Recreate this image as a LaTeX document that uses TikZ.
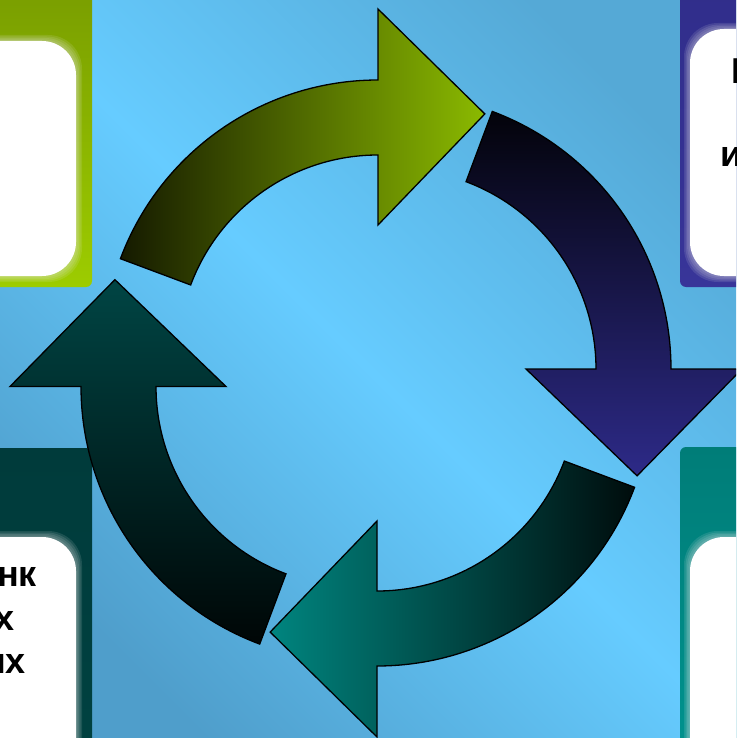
\documentclass[tikz,border=0pt]{standalone}
\usepackage{fontspec}
\setmainfont{Liberation Sans}
\usetikzlibrary{calc}
\definecolor{bglight}{HTML}{66CCFF}
\definecolor{bgdarkA}{HTML}{55A9D6}
\definecolor{bgdarkB}{HTML}{4F9ECB}
\definecolor{grA}{HTML}{779B00}
\definecolor{grB}{HTML}{9DCC00}
\definecolor{blA}{HTML}{302D8A}
\definecolor{blB}{HTML}{383599}
\definecolor{dtA}{HTML}{003B3B}
\definecolor{dtB}{HTML}{004241}
\definecolor{tlA}{HTML}{007D78}
\definecolor{tlB}{HTML}{009490}
\definecolor{agA}{HTML}{151A00}
\definecolor{agB}{HTML}{8BBA00}
\definecolor{abA}{HTML}{03030A}
\definecolor{abB}{HTML}{2D2A88}
\definecolor{atA}{HTML}{00857F}
\definecolor{atB}{HTML}{000C0C}
\definecolor{alA}{HTML}{004544}
\definecolor{alB}{HTML}{000606}
\newcommand\cyclearrow[3]{%
  \pgfmathsetmacro\tailang{#2-69.5}%
  \pgfmathsetmacro\tipang{#2+23.9}%
  \begin{scope}[shift={#1}]
    \shadedraw[arrowline,#3] (\tailang:275)
      arc[start angle=\tailang, end angle=#2, radius=275]
      -- (#2:346) -- (\tipang:263.7) -- (#2:130) -- (#2:200)
      arc[start angle=#2, end angle=\tailang, radius=200] -- cycle;
  \end{scope}}
\newcommand\glowbox[2]{%
  \foreach \k in {1,...,4}{%
    \fill[white!85!gray, opacity=0.12, rounded corners=34pt]
      ($#1+(-1.5*\k,-1.5*\k)$) rectangle ($#2+(1.5*\k,1.5*\k)$);}
  \fill[white, rounded corners=34pt] #1 rectangle #2;}
\begin{document}
\begin{tikzpicture}[x=1pt,y=-1pt,
  arrowline/.style={draw=black, line width=1.3pt, line join=miter},
  txt/.style={font=\fontsize{36}{43}\selectfont\bfseries, text=black, inner sep=0pt}]
\useasboundingbox (0,0) rectangle (736,738);
\clip (0,0) rectangle (736,738);
% background
\shade[top color=bgdarkA, bottom color=bgdarkB, middle color=bglight, shading angle=-45]
  (-10,-10) rectangle (746,748);
% corner panels
\shade[top color=grA, bottom color=grB, rounded corners=6pt] (-30,-30) rectangle (92,287);
\shade[top color=blA, bottom color=blB, rounded corners=6pt] (680,-30) rectangle (780,287);
\shade[top color=dtA, bottom color=dtB, rounded corners=6pt] (-30,448) rectangle (92,780);
\shade[top color=tlA, bottom color=tlB, rounded corners=6pt] (680,447) rectangle (780,780);
% white boxes
\glowbox{(-60,41)}{(76,276)}
\glowbox{(690,29)}{(800,276)}
\glowbox{(-60,537)}{(76,800)}
\glowbox{(690,537)}{(800,800)}
% texts
\node[txt, anchor=base west] (tr1) at (731,84) {П};
\node[txt, anchor=base west] (tr3) at (720,167) {и};
\node[txt, anchor=base east] (bl1) at (37,586) {нк};
\node[txt, anchor=base east] (bl2) at (15,630) {х};
\node[txt, anchor=base east] (bl3) at (26,673) {ых};
% arrows
\cyclearrow{(378,355)}{270}{left color=agA, right color=agB}
\cyclearrow{(396,369)}{0}{top color=abA, bottom color=abB}
\cyclearrow{(377,391)}{90}{left color=atA, right color=atB}
\cyclearrow{(356,386.5)}{180}{top color=alA, bottom color=alB}
\end{tikzpicture}
\end{document}
